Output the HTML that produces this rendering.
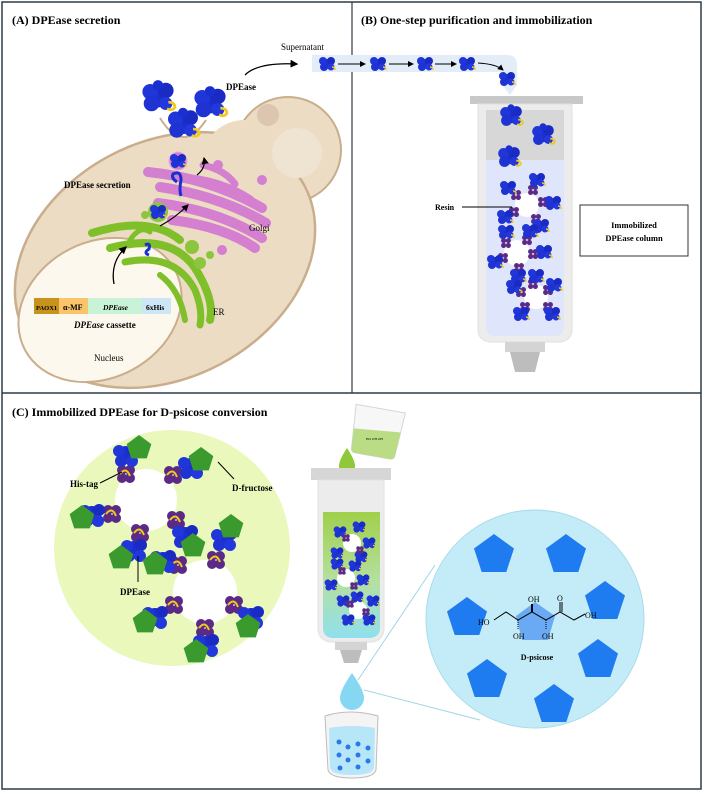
<!DOCTYPE html>
<html><head><meta charset="utf-8"><style>
html,body{margin:0;padding:0;background:#fff;}
svg{display:block;}
text{font-family:"Liberation Serif",serif;}
</style></head><body>
<svg width="708" height="796" viewBox="0 0 708 796" xmlns="http://www.w3.org/2000/svg">
<defs>
<g id="prot">
 <circle cx="0" cy="0" r="8" fill="#1a2fd0"/>
 <circle cx="-6" cy="-4" r="6" fill="#2136d8"/>
 <circle cx="6" cy="-5" r="6" fill="#1a2bc4"/>
 <circle cx="-5" cy="5" r="6" fill="#1f33d2"/>
 <circle cx="6" cy="5" r="5" fill="#2338dc"/>
 <circle cx="0" cy="-9" r="4" fill="#1a2fd0"/>
 <path d="M8 4 q5 0 5 4 q-2 3 -6 1" fill="none" stroke="#f2c81a" stroke-width="2"/>
</g>
<g id="sprot">
 <circle cx="0" cy="0" r="5" fill="#1a2fd0"/>
 <circle cx="-4" cy="-3" r="4" fill="#2136d8"/>
 <circle cx="4" cy="-3" r="4" fill="#1a2bc4"/>
 <circle cx="-3" cy="3" r="4" fill="#1f33d2"/>
 <circle cx="4" cy="3" r="3.5" fill="#2338dc"/>
 <path d="M5 3 q3 0 3 3" fill="none" stroke="#f2c81a" stroke-width="1.5"/>
</g>
<g id="purp">
 <circle cx="-3" cy="-3" r="3.2" fill="#5b2a86"/><circle cx="3" cy="-3" r="3.2" fill="#5b2a86"/>
 <circle cx="-3" cy="3" r="3.2" fill="#5b2a86"/><circle cx="3" cy="3" r="3.2" fill="#5b2a86"/>
</g>
<g id="bigpurp">
 <circle cx="-4" cy="-4" r="5" fill="#5b2a86"/><circle cx="4" cy="-4" r="5" fill="#5b2a86"/>
 <circle cx="-4" cy="4" r="5" fill="#5b2a86"/><circle cx="4" cy="4" r="5" fill="#5b2a86"/>
 <path d="M-6 0 q6 -8 10 2" fill="none" stroke="#f2c81a" stroke-width="2"/>
</g>
<g id="bprot">
 <circle cx="0" cy="0" r="9" fill="#1a2fd0"/>
 <circle cx="-7" cy="-4" r="6" fill="#2136d8"/>
 <circle cx="7" cy="-5" r="6" fill="#1a2bc4"/>
 <circle cx="-5" cy="6" r="6" fill="#1f33d2"/>
 <circle cx="6" cy="6" r="6" fill="#2338dc"/>
</g>
<polygon id="gpent" points="0,-10 9.5,-3 6,8 -6,8 -9.5,-3" fill="#3a9a2e"/>
<polygon id="bpent" points="0,-21 20,-6.5 12.3,17 -12.3,17 -20,-6.5" fill="#1f7cf0"/>
<linearGradient id="colg" x1="0" y1="0" x2="0" y2="1">
 <stop offset="0" stop-color="#9fd04a"/><stop offset="0.55" stop-color="#b5e0a0"/><stop offset="1" stop-color="#8fe0ee"/>
</linearGradient>
<marker id="ah" markerWidth="6" markerHeight="6" refX="5" refY="3" orient="auto"><path d="M0 0 L6 3 L0 6z" fill="#000"/></marker>
</defs>

<rect x="2" y="2" width="699" height="787" fill="#fff" stroke="#2e3b47" stroke-width="1.5"/>
<line x1="352" y1="2" x2="352" y2="393" stroke="#2e3b47" stroke-width="1.2"/>
<line x1="2" y1="393" x2="701" y2="393" stroke="#2e3b47" stroke-width="1.5"/>

<!-- ===== Panel A ===== -->
<text x="12" y="24" font-size="12" font-weight="bold">(A) DPEase secretion</text>
<text x="281" y="50" font-size="9">Supernatant</text>
<path d="M245 75 Q258 62 297 64" fill="none" stroke="#000" stroke-width="1.3" marker-end="url(#ah)"/>
<text x="226" y="90" font-size="9" font-weight="bold">DPEase</text>

<g>
 <circle cx="288" cy="150" r="53" fill="#ecdcc4" stroke="#c9ad8c" stroke-width="2"/>
 <ellipse cx="165" cy="260" rx="158" ry="118" transform="rotate(-28 165 260)" fill="#ecdcc4" stroke="#c9ad8c" stroke-width="2.5"/>
 <ellipse cx="245" cy="155" rx="40" ry="35" fill="#ecdcc4"/>
 <circle cx="268" cy="115" r="11" fill="#dcc6b0"/>
 <circle cx="297" cy="153" r="25" fill="#efe3d2"/>
 <path d="M160 118 Q183 155 206 120" fill="#fff" stroke="#c9ad8c" stroke-width="2"/>
 <ellipse cx="100" cy="310" rx="85" ry="68" transform="rotate(-28 100 310)" fill="#fdf8ee" stroke="#c9ad8c" stroke-width="2"/>
</g>
<use href="#prot" transform="translate(158,97) scale(1.3)"/>
<use href="#prot" transform="translate(210,103) scale(1.3)"/>
<use href="#prot" transform="translate(183,124) scale(1.25)"/>

<g fill="none" stroke="#d47fd0" stroke-linecap="round">
 <path d="M180 178 Q220 180 250 200" stroke-width="9"/>
 <path d="M148 172 Q210 178 262 208" stroke-width="10"/>
 <path d="M160 187 Q220 196 266 223" stroke-width="10"/>
 <path d="M158 203 Q220 211 262 238" stroke-width="10"/>
 <path d="M172 220 Q225 227 255 248" stroke-width="10"/>
 <path d="M203 165 Q225 170 235 184" stroke-width="7"/>
</g>
<circle cx="218" cy="165" r="5" fill="#d47fd0"/>
<circle cx="262" cy="180" r="5" fill="#d47fd0"/>
<circle cx="222" cy="250" r="5" fill="#d47fd0"/>
<circle cx="178" cy="161" r="9" fill="#d47fd0" stroke="#e8a9e5"/>
<use href="#sprot" transform="translate(178,161)"/>
<path d="M177 182 q-6 -4 -4 -8 q8 -4 8 6 q-2 10 0 16" fill="none" stroke="#1a2fd0" stroke-width="3"/>
<g fill="none" stroke="#7fbf2a" stroke-linecap="round">
 <path d="M92 233 Q150 215 180 240" stroke-width="8"/>
 <path d="M110 248 Q170 232 195 268 Q215 300 210 320" stroke-width="8"/>
 <path d="M125 262 Q175 252 195 290 Q203 310 200 325" stroke-width="7"/>
 <path d="M160 275 Q180 290 185 320" stroke-width="6"/>
 <path d="M130 240 Q140 225 150 232" stroke-width="5"/>
</g>
<circle cx="158" cy="212" r="10" fill="#8cc63f"/>
<use href="#sprot" transform="translate(158,212)"/>
<circle cx="192" cy="247" r="7" fill="#8cc63f"/>
<circle cx="200" cy="263" r="6" fill="#8cc63f"/>
<circle cx="210" cy="255" r="4" fill="#8cc63f"/>
<circle cx="145" cy="215" r="4" fill="#8cc63f"/>
<path d="M145 245 q6 -3 4 4 q-6 4 0 6" fill="none" stroke="#1a2fd0" stroke-width="3"/>
<path d="M160 226 Q175 218 188 205" fill="none" stroke="#000" stroke-width="1.2" marker-end="url(#ah)"/>
<path d="M197 175 Q206 168 204 158" fill="none" stroke="#000" stroke-width="1.2" marker-end="url(#ah)"/>
<path d="M114 284 Q110 262 126 247" fill="none" stroke="#000" stroke-width="1.3" marker-end="url(#ah)"/>
<text x="64" y="188" font-size="9" font-weight="bold">DPEase secretion</text>
<text x="249" y="231" font-size="9">Golgi</text>
<text x="213" y="315" font-size="9">ER</text>
<rect x="34" y="298" width="25" height="16" fill="#c8931c"/>
<rect x="59" y="298" width="29" height="16" fill="#f9c46a"/>
<rect x="88" y="298" width="54" height="16" fill="#c9f3d7"/>
<rect x="142" y="298" width="29" height="16" fill="#cce6f5"/>
<text x="36" y="310" font-size="6.5" font-weight="bold">PAOX1</text>
<text x="63" y="310" font-size="8" font-weight="bold">α-MF</text>
<text x="103" y="310" font-size="7.5" font-style="italic" font-weight="bold">DPEase</text>
<text x="146" y="310" font-size="7.5" font-weight="bold">6xHis</text>
<text x="74" y="328" font-size="9" font-weight="bold"><tspan font-style="italic">DPEase</tspan> cassette</text>
<text x="94" y="361" font-size="9">Nucleus</text>

<!-- ===== Panel B ===== -->
<text x="361" y="24" font-size="12" font-weight="bold">(B) One-step purification and immobilization</text>
<path d="M312 55 H507 Q517 55 517 65 V85 L510 95 L502 85 V72 H312 Z" fill="#e3edf8"/>
<use href="#sprot" transform="translate(327,64)"/>
<use href="#sprot" transform="translate(378,64)"/>
<use href="#sprot" transform="translate(425,64)"/>
<use href="#sprot" transform="translate(467,64)"/>
<use href="#sprot" transform="translate(507,79)"/>
<line x1="338" y1="64" x2="365" y2="64" stroke="#000" stroke-width="1" marker-end="url(#ah)"/>
<line x1="389" y1="64" x2="413" y2="64" stroke="#000" stroke-width="1" marker-end="url(#ah)"/>
<line x1="435" y1="64" x2="456" y2="64" stroke="#000" stroke-width="1" marker-end="url(#ah)"/>
<path d="M478 63 Q496 64 503 70" fill="none" stroke="#000" stroke-width="1" marker-end="url(#ah)"/>
<rect x="470" y="96" width="113" height="8" fill="#c8c8c8"/>
<path d="M478 104 H572 V330 Q572 340 560 342 H490 Q478 340 478 330 Z" fill="#ececec" stroke="#e0e0e0"/>
<path d="M486 110 H564 V325 Q564 335 555 336 H495 Q486 335 486 325 Z" fill="#d7d7d7"/>
<path d="M486 160 H564 V325 Q564 335 555 336 H495 Q486 335 486 325 Z" fill="#dfe6fb"/>
<rect x="505" y="342" width="40" height="10" fill="#d4d4d4"/>
<polygon points="510,352 540,352 535,372 515,372" fill="#bdbdbd"/>
<use href="#prot" transform="translate(511,116) scale(0.9)"/>
<use href="#prot" transform="translate(543,135) scale(0.9)"/>
<use href="#prot" transform="translate(509,157) scale(0.9)"/>
<g>
 <circle cx="527" cy="205" r="12" fill="#fff"/>
 <circle cx="517" cy="253" r="13" fill="#fff"/>
 <circle cx="536" cy="297" r="12" fill="#fff"/>
 <use href="#purp" transform="translate(516,195) scale(0.8)"/><use href="#sprot" transform="translate(508,188)"/>
 <use href="#purp" transform="translate(533,190) scale(0.8)"/><use href="#sprot" transform="translate(537,180)"/>
 <use href="#purp" transform="translate(543,202) scale(0.8)"/><use href="#sprot" transform="translate(553,203)"/>
 <use href="#purp" transform="translate(514,212) scale(0.8)"/><use href="#sprot" transform="translate(505,217)"/>
 <use href="#purp" transform="translate(536,219) scale(0.8)"/><use href="#sprot" transform="translate(541,226)"/>
 <use href="#purp" transform="translate(506,243) scale(0.8)"/><use href="#sprot" transform="translate(506,232)"/>
 <use href="#purp" transform="translate(527,240) scale(0.8)"/><use href="#sprot" transform="translate(530,231)"/>
 <use href="#purp" transform="translate(533,254) scale(0.8)"/><use href="#sprot" transform="translate(544,252)"/>
 <use href="#purp" transform="translate(503,258) scale(0.8)"/><use href="#sprot" transform="translate(495,262)"/>
 <use href="#purp" transform="translate(519,268) scale(0.8)"/><use href="#sprot" transform="translate(518,276)"/>
 <use href="#purp" transform="translate(533,284) scale(0.8)"/><use href="#sprot" transform="translate(536,276)"/>
 <use href="#purp" transform="translate(521,292) scale(0.8)"/><use href="#sprot" transform="translate(514,287)"/>
 <use href="#purp" transform="translate(548,290) scale(0.8)"/><use href="#sprot" transform="translate(554,285)"/>
 <use href="#purp" transform="translate(548,307) scale(0.8)"/><use href="#sprot" transform="translate(552,314)"/>
 <use href="#purp" transform="translate(525,307) scale(0.8)"/><use href="#sprot" transform="translate(521,314)"/>
</g>
<text x="435" y="210" font-size="8" font-weight="bold">Resin</text>
<line x1="462" y1="207" x2="512" y2="207" stroke="#000" stroke-width="1"/>
<rect x="580" y="205" width="108" height="51" fill="#fff" stroke="#333" stroke-width="1"/>
<text x="634" y="228" font-size="8.5" font-weight="bold" text-anchor="middle">Immobilized</text>
<text x="634" y="241" font-size="8.5" font-weight="bold" text-anchor="middle">DPEase column</text>

<!-- ===== Panel C ===== -->
<text x="12" y="416" font-size="12" font-weight="bold">(C) Immobilized DPEase for D-psicose conversion</text>
<circle cx="172" cy="548" r="118" fill="#ebf8bc"/>
<circle cx="146" cy="500" r="31" fill="#fff"/>
<circle cx="205" cy="592" r="32" fill="#fff"/>
<use href="#bigpurp" transform="translate(126,474)"/><use href="#bprot" transform="translate(126,455)"/><use href="#gpent" transform="translate(139,448) scale(1.3)"/>
<use href="#bigpurp" transform="translate(173,475)"/><use href="#bprot" transform="translate(191,467)"/><use href="#gpent" transform="translate(201,460) scale(1.3)"/>
<use href="#bigpurp" transform="translate(112,514)"/><use href="#bprot" transform="translate(92,515)"/><use href="#gpent" transform="translate(82,518) scale(1.3)"/>
<use href="#bigpurp" transform="translate(140,533)"/><use href="#bprot" transform="translate(134,550)"/><use href="#gpent" transform="translate(121,558) scale(1.3)"/>
<use href="#bigpurp" transform="translate(176,520)"/><use href="#bprot" transform="translate(185,536)"/><use href="#gpent" transform="translate(193,546) scale(1.3)"/>
<use href="#bigpurp" transform="translate(178,565)"/><use href="#bprot" transform="translate(163,561)"/><use href="#gpent" transform="translate(155,564) scale(1.3)"/>
<use href="#bigpurp" transform="translate(216,560)"/><use href="#bprot" transform="translate(224,539)"/><use href="#gpent" transform="translate(231,527) scale(1.3)"/>
<use href="#bigpurp" transform="translate(174,605)"/><use href="#bprot" transform="translate(155,617)"/><use href="#gpent" transform="translate(145,622) scale(1.3)"/>
<use href="#bigpurp" transform="translate(234,605)"/><use href="#bprot" transform="translate(251,617)"/><use href="#gpent" transform="translate(248,627) scale(1.3)"/>
<use href="#bigpurp" transform="translate(205,628)"/><use href="#bprot" transform="translate(206,645)"/><use href="#gpent" transform="translate(196,652) scale(1.3)"/>
<line x1="100" y1="483" x2="122" y2="472" stroke="#000" stroke-width="1"/>
<text x="70" y="487" font-size="9" font-weight="bold">His-tag</text>
<line x1="218" y1="462" x2="234" y2="479" stroke="#000" stroke-width="1"/>
<text x="232" y="491" font-size="9" font-weight="bold">D-fructose</text>
<line x1="138" y1="556" x2="138" y2="582" stroke="#000" stroke-width="1"/>
<text x="120" y="595" font-size="9" font-weight="bold">DPEase</text>

<g transform="rotate(10 375 430)">
 <path d="M352 408 L402 408 L399 452 Q399 456 394 456 L360 456 Q355 456 355 452 Z" fill="#f7f7f7" stroke="#d6d6d6"/>
 <path d="M354 432 L401 428 L399 452 Q399 456 394 456 L360 456 Q355 456 355 452 Z" fill="#b9dc85"/>
</g>
<text x="366" y="440" font-size="3.5" font-family="Liberation Sans">HO    OH  OH</text>
<path d="M347 448 Q355 460 355 466 A8 8 0 0 1 339 466 Q339 460 347 448 Z" fill="#8fc93a"/>
<rect x="311" y="468" width="80" height="12" fill="#d6d6d6"/>
<path d="M318 480 H384 V628 Q384 640 372 642 H330 Q318 640 318 628 Z" fill="#ececec" stroke="#e2e2e2"/>
<path d="M323 512 H380 V628 Q380 637 370 638 H332 Q323 637 323 628 Z" fill="url(#colg)"/>
<rect x="335" y="642" width="32" height="8" fill="#d4d4d4"/>
<polygon points="340,650 362,650 358,663 344,663" fill="#bdbdbd"/>
<circle cx="352" cy="543" r="9" fill="#fff"/>
<circle cx="346" cy="578" r="9" fill="#fff"/>
<circle cx="358" cy="610" r="9" fill="#fff"/>
<g>
 <use href="#sprot" transform="translate(340,532) scale(0.8)"/><use href="#sprot" transform="translate(359,527) scale(0.8)"/>
 <use href="#sprot" transform="translate(369,543) scale(0.8)"/><use href="#sprot" transform="translate(337,553) scale(0.8)"/>
 <use href="#sprot" transform="translate(361,557) scale(0.8)"/><use href="#sprot" transform="translate(337,564) scale(0.8)"/>
 <use href="#sprot" transform="translate(355,566) scale(0.8)"/><use href="#sprot" transform="translate(331,585) scale(0.8)"/>
 <use href="#sprot" transform="translate(363,580) scale(0.8)"/><use href="#sprot" transform="translate(343,601) scale(0.8)"/>
 <use href="#sprot" transform="translate(357,597) scale(0.8)"/><use href="#sprot" transform="translate(373,601) scale(0.8)"/>
 <use href="#sprot" transform="translate(348,620) scale(0.8)"/><use href="#sprot" transform="translate(369,620) scale(0.8)"/>
 <use href="#purp" transform="translate(346,538) scale(0.6)"/><use href="#purp" transform="translate(360,550) scale(0.6)"/>
 <use href="#purp" transform="translate(342,571) scale(0.6)"/><use href="#purp" transform="translate(354,586) scale(0.6)"/>
 <use href="#purp" transform="translate(350,604) scale(0.6)"/><use href="#purp" transform="translate(366,612) scale(0.6)"/>
</g>
<line x1="358" y1="680" x2="435" y2="565" stroke="#9fd6e6" stroke-width="1"/>
<line x1="364" y1="690" x2="480" y2="720" stroke="#9fd6e6" stroke-width="1"/>
<path d="M352 673 Q364 690 364 698 A12 12 0 0 1 340 698 Q340 690 352 673 Z" fill="#86d8f2"/>
<path d="M325 716 Q350 708 378 716 L376 770 Q374 778 352 778 Q330 778 328 770 Z" fill="#f4f4f4" stroke="#bdbdbd"/>
<path d="M329 728 Q352 724 375 728 L374 768 Q372 775 352 775 Q332 775 330 768 Z" fill="#b6e6f8"/>
<g fill="#2b78e8">
 <circle cx="339" cy="742" r="2.5"/><circle cx="348" cy="747" r="2.5"/><circle cx="358" cy="744" r="2.5"/><circle cx="368" cy="748" r="2.5"/>
 <circle cx="339" cy="755" r="2.5"/><circle cx="348" cy="760" r="2.5"/><circle cx="358" cy="755" r="2.5"/><circle cx="368" cy="761" r="2.5"/>
 <circle cx="340" cy="768" r="2.5"/><circle cx="358" cy="767" r="2.5"/>
</g>
<circle cx="535" cy="619" r="109" fill="#c3ecf8" stroke="#a9dbe9" stroke-width="1"/>
<use href="#bpent" transform="translate(494,555)"/>
<use href="#bpent" transform="translate(566,555)"/>
<use href="#bpent" transform="translate(467,618)"/>
<use href="#bpent" transform="translate(605,602)"/>
<use href="#bpent" transform="translate(598,660)"/>
<use href="#bpent" transform="translate(487,680)"/>
<use href="#bpent" transform="translate(554,705)"/>
<polygon points="535,602 555,616 548,640 522,640 516,616" fill="#6aaaf4"/>
<g stroke="#000" stroke-width="1" fill="none">
 <polyline points="494,620 506,612 518,620 532,612 546,620 560,612 574,620 585,614"/>
 <line x1="560" y1="612" x2="560" y2="602"/><line x1="562" y1="612" x2="562" y2="602"/>
 <line x1="532" y1="612" x2="532" y2="604" stroke-width="2"/>
 <line x1="518" y1="620" x2="518" y2="630" stroke-dasharray="1 1"/>
 <line x1="546" y1="620" x2="546" y2="630" stroke-dasharray="1 1"/>
</g>
<g font-size="8">
 <text x="478" y="625" font-family="Liberation Sans, sans-serif">HO</text>
 <text x="528" y="602" font-family="Liberation Sans, sans-serif">OH</text>
 <text x="557" y="601" font-family="Liberation Sans, sans-serif">O</text>
 <text x="585" y="618" font-family="Liberation Sans, sans-serif">OH</text>
 <text x="513" y="639" font-family="Liberation Sans, sans-serif">OH</text>
 <text x="542" y="639" font-family="Liberation Sans, sans-serif">OH</text>
</g>
<text x="537" y="660" font-size="8" font-weight="bold" text-anchor="middle">D-psicose</text>
</svg>
</body></html>
